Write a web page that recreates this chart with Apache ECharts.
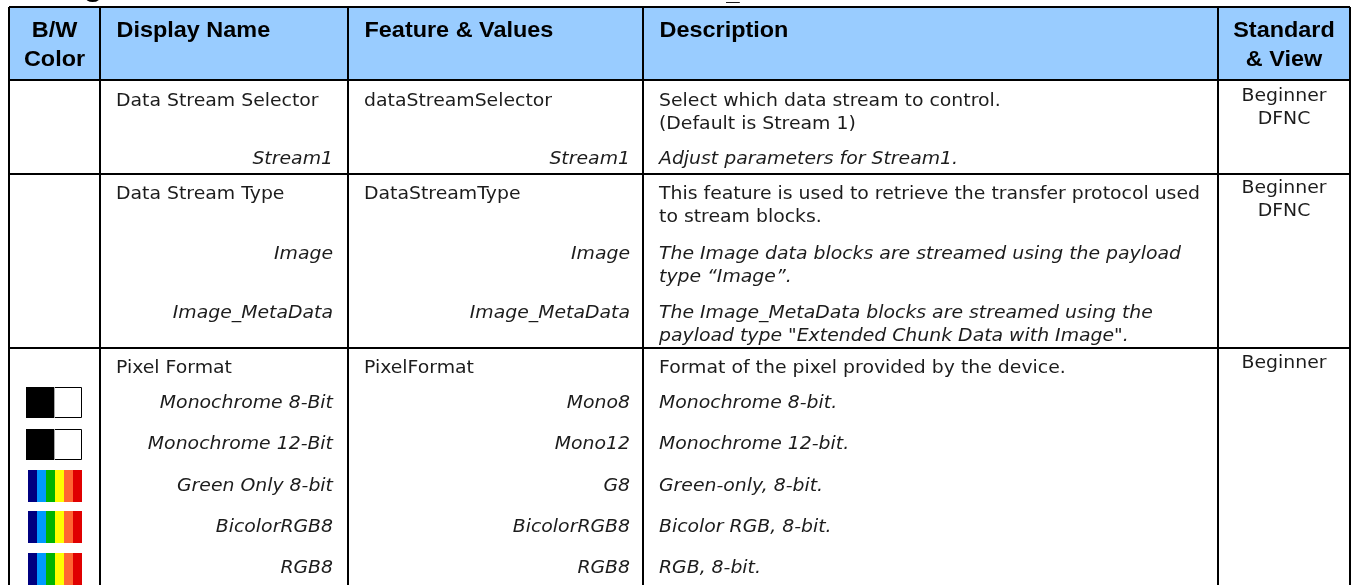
<!DOCTYPE html>
<html>
<head>
<meta charset="utf-8">
<title>Data stream features</title>
<style>
  html, body { margin: 0; padding: 0; background: #fff; }
  #main { width: 1353px; height: 585px; }
</style>
<script src="https://cdn.jsdelivr.net/npm/echarts@6/dist/echarts.min.js"></script>
</head>
<body>
<div id="main"></div>
<script>
// table content
const headers = ['B/W\nColor', 'Display Name', 'Feature & Values', 'Description', 'Standard\n& View'];
const displayNames = ['Data Stream Selector', 'Stream1', 'Data Stream Type', 'Image', 'Image_MetaData', 'Pixel Format',
    'Monochrome 8-Bit', 'Monochrome 12-Bit', 'Green Only 8-bit', 'BicolorRGB8', 'RGB8'];
const featureValues = ['dataStreamSelector', 'Stream1', 'DataStreamType', 'Image', 'Image_MetaData', 'PixelFormat',
    'Mono8', 'Mono12', 'G8', 'BicolorRGB8', 'RGB8'];
const descriptions = [
    'Select which data stream to control.\n(Default is Stream 1)',
    'Adjust parameters for Stream1.',
    'This feature is used to retrieve the transfer protocol used\nto stream blocks.',
    'The Image data blocks are streamed using the payload\ntype \u201cImage\u201d.',
    'The Image_MetaData blocks are streamed using the\npayload type "Extended Chunk Data with Image".',
    'Format of the pixel provided by the device.',
    'Monochrome 8-bit.',
    'Monochrome 12-bit.',
    'Green-only, 8-bit.',
    'Bicolor RGB, 8-bit.',
    'RGB, 8-bit.'
];
const isFeatureRow = [true, false, true, false, false, true, false, false, false, false, false];
const swatchKinds = ['', '', '', '', '', '', 'mono', 'mono', 'color', 'color', 'color'];
const views = ['Beginner\nDFNC', 'Beginner\nDFNC', 'Beginner'];

// page layout, in pixels of the hidden axes
const colEdges = [9, 100, 348, 643, 1218, 1350];
const ruleRows = [7, 80, 174, 348, 600];
const entryY = [101, 159, 194, 254, 313, 368, 403, 444, 486, 527, 568];
const swatchTop = [0, 0, 0, 0, 0, 0, 387, 429, 470, 511, 553];
const viewY = [96, 188, 363];
const SWATCH_H = 31;
const STRIPES = ['#000080', '#0099ff', '#00b400', '#ffff00', '#ff6633', '#e00000'];
const LINE_H = 23;
const HEAD_TOP = 31;
const HEAD_LINE_H = 29;

const BODY_FONT = '"DejaVu Sans", Verdana, sans-serif';
const HEAD_FONT = '"Liberation Sans", Arial, sans-serif';
const TEXT_COLOR = '#1c1c1c';
const BODY_STRETCH = 1.077;
const HEAD_STRETCH = 1.09;

function bodyText(x, y, text, align, italic) {
    return {
        type: 'text',
        x: x, y: y, scaleX: BODY_STRETCH,
        style: {
            text: text, align: align, verticalAlign: 'middle',
            font: (italic ? 'italic ' : '') + '17.5px ' + BODY_FONT,
            fill: TEXT_COLOR
        }
    };
}

function lineShape(api, x1, y1, x2, y2) {
    const a = api.coord([x1, y1]), b = api.coord([x2, y2]);
    return { type: 'line', shape: { x1: a[0], y1: a[1], x2: b[0], y2: b[1] }, style: { stroke: '#000', lineWidth: 2 } };
}

function drawFrame(params, api) {
    const kids = [];
    const tl = api.coord([colEdges[0], ruleRows[0]]), br = api.coord([colEdges[5], ruleRows[1]]);
    kids.push({ type: 'rect', shape: { x: tl[0], y: tl[1], width: br[0] - tl[0], height: br[1] - tl[1] }, style: { fill: '#99ccff' } });
    colEdges.forEach(x => kids.push(lineShape(api, x, ruleRows[0], x, ruleRows[4])));
    ruleRows.slice(0, 4).forEach(y => kids.push(lineShape(api, colEdges[0], y, colEdges[5], y)));
    // clipped descenders of the page heading above the table
    kids.push({ type: 'text', x: 93, y: 2, style: { text: 'g', align: 'center', verticalAlign: 'bottom', font: 'bold 32px ' + HEAD_FONT, fill: '#000' } });
    kids.push({ type: 'text', x: 733, y: 5, style: { text: '_', align: 'center', verticalAlign: 'bottom', font: 'bold 24px ' + HEAD_FONT, fill: '#000' } });
    return { type: 'group', children: kids };
}

function drawHeader(params, api) {
    const i = params.dataIndex;
    const left = colEdges[i], right = colEdges[i + 1];
    const centered = i === 0 || i === 4;
    const kids = headers[i].split('\n').map((line, n) => {
        const p = api.coord([centered ? (left + right) / 2 : left + 16.5, HEAD_TOP + n * HEAD_LINE_H]);
        return {
            type: 'text', x: p[0], y: p[1], scaleX: HEAD_STRETCH,
            style: {
                text: line, align: centered ? 'center' : 'left', verticalAlign: 'middle',
                font: 'bold 21.5px ' + HEAD_FONT, fill: '#000'
            }
        };
    });
    return { type: 'group', children: kids };
}

function drawEntry(params, api) {
    const i = params.dataIndex;
    const y = entryY[i];
    const main = isFeatureRow[i];
    const kids = [];
    const nameP = api.coord([main ? colEdges[1] + 16 : colEdges[2] - 15, y]);
    kids.push(bodyText(nameP[0], nameP[1], displayNames[i], main ? 'left' : 'right', !main));
    const featP = api.coord([main ? colEdges[2] + 16 : colEdges[3] - 13, y]);
    kids.push(bodyText(featP[0], featP[1], featureValues[i], main ? 'left' : 'right', !main));
    descriptions[i].split('\n').forEach((line, n) => {
        const d = api.coord([colEdges[3] + 16, y + n * LINE_H]);
        kids.push(bodyText(d[0], d[1], line, 'left', !main));
    });
    if (swatchKinds[i] === 'mono') {
        const a = api.coord([26, swatchTop[i]]), s = api.size([56, SWATCH_H]);
        kids.push({ type: 'rect', shape: { x: a[0] + 0.5, y: a[1] + 0.5, width: s[0] - 1, height: s[1] - 1 }, style: { fill: '#fff', stroke: '#000', lineWidth: 1 } });
        kids.push({ type: 'rect', shape: { x: a[0] + s[0] / 2, y: a[1], width: 1, height: s[1] }, style: { fill: '#aaa' } });
        kids.push({ type: 'rect', shape: { x: a[0], y: a[1], width: s[0] / 2, height: s[1] }, style: { fill: '#000' } });
    } else if (swatchKinds[i] === 'color') {
        STRIPES.forEach((c, n) => {
            const a = api.coord([28 + n * 9, swatchTop[i]]), s = api.size([9, SWATCH_H + 1]);
            kids.push({ type: 'rect', shape: { x: a[0], y: a[1], width: s[0], height: s[1] }, style: { fill: c } });
        });
    }
    return { type: 'group', children: kids };
}

function drawView(params, api) {
    const i = params.dataIndex;
    const x = (colEdges[4] + colEdges[5]) / 2;
    const kids = views[i].split('\n').map((line, n) => {
        const p = api.coord([x, viewY[i] + n * LINE_H]);
        return bodyText(p[0], p[1], line, 'center', false);
    });
    return { type: 'group', children: kids };
}

function customSeries(count, renderItem) {
    return {
        type: 'custom', coordinateSystem: 'cartesian2d', clip: false, silent: true,
        encode: { x: 0, y: 1 },
        data: Array.from({ length: count }, (_, i) => [i, i]),
        renderItem: renderItem
    };
}

const chart = echarts.init(document.getElementById('main'), null, { renderer: 'canvas' });
chart.setOption({
    animation: false,
    backgroundColor: '#fff',
    grid: { left: 0, right: 0, top: 0, bottom: 0 },
    xAxis: { type: 'value', min: 0, max: 1353, show: false },
    yAxis: { type: 'value', min: 0, max: 585, inverse: true, show: false },
    tooltip: { show: false },
    series: [
        customSeries(1, drawFrame),
        customSeries(headers.length, drawHeader),
        customSeries(displayNames.length, drawEntry),
        customSeries(views.length, drawView)
    ]
});
</script>
</body>
</html>
